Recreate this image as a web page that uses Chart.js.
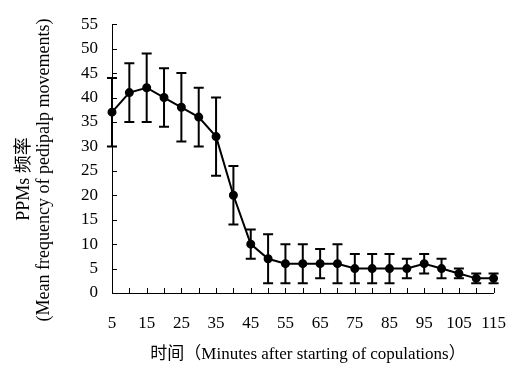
<!DOCTYPE html>
<html>
<head>
<meta charset="utf-8">
<script src="https://cdn.jsdelivr.net/npm/chart.js@4.4.1/dist/chart.umd.min.js"></script>
<style>
  body { margin: 0; background: #fff; }
  #c { display: block; }
</style>
</head>
<body>
<canvas id="c" width="526" height="374"></canvas>
<script>
// Data
const minutes = [5, 10, 15, 20, 25, 30, 35, 40, 45, 50, 55, 60, 65, 70, 75, 80, 85, 90, 95, 100, 105, 110, 115];
const meanPPM = [37, 41, 42, 40, 38, 36, 32, 20, 10, 7, 6, 6, 6, 6, 5, 5, 5, 5, 6, 5, 4, 3, 3];
const errPPM  = [7, 6, 7, 6, 7, 6, 8, 6, 3, 5, 4, 4, 3, 4, 3, 3, 3, 2, 2, 2, 1, 1, 1];
const yTicks = [0, 5, 10, 15, 20, 25, 30, 35, 40, 45, 50, 55];

const FONT = "'Liberation Serif', 'Noto Sans CJK SC', serif";

// Error bars under the line
const errorBars = {
    id: 'errorBars',
    beforeDatasetsDraw(chart) {
        const { ctx, scales: { x, y } } = chart;
        ctx.save();
        ctx.strokeStyle = '#000';
        ctx.lineWidth = 2;
        meanPPM.forEach((v, i) => {
            const px = x.getPixelForValue(i);
            const top = y.getPixelForValue(v + errPPM[i]);
            const bot = y.getPixelForValue(Math.max(0, v - errPPM[i]));
            ctx.beginPath();
            ctx.moveTo(px, top); ctx.lineTo(px, bot);
            ctx.moveTo(px - 5, top); ctx.lineTo(px + 5, top);
            ctx.moveTo(px - 5, bot); ctx.lineTo(px + 5, bot);
            ctx.stroke();
        });
        ctx.restore();
    }
};

// Inward tick marks + axis titles
const axisDecor = {
    id: 'axisDecor',
    afterDraw(chart) {
        const { ctx, chartArea: a, scales: { x, y } } = chart;
        ctx.save();
        ctx.strokeStyle = '#000';
        ctx.lineWidth = 1;
        ctx.beginPath();
        x.ticks.forEach((t, i) => {
            const px = Math.round(x.getPixelForTick(i)) + 0.5;
            ctx.moveTo(px, a.bottom); ctx.lineTo(px, a.bottom - 5);
        });
        y.ticks.forEach((t, i) => {
            const py = Math.round(y.getPixelForTick(i)) + 0.5;
            ctx.moveTo(a.left, py); ctx.lineTo(a.left + 5, py);
        });
        ctx.stroke();

        ctx.fillStyle = '#000';
        ctx.font = '17px ' + FONT;
        ctx.textAlign = 'center';
        ctx.textBaseline = 'middle';
        ctx.fillText('时间（Minutes after starting of copulations）', 308, 355);

        ctx.font = '18px ' + FONT;
        ctx.translate(24, 175);
        ctx.rotate(-Math.PI / 2);
        ctx.fillText('PPMs 频率', -4, 0);
        ctx.fillText('(Mean frequency of pedipalp movements)', 5, 20);
        ctx.restore();
    }
};

new Chart(document.getElementById('c'), {
    type: 'line',
    data: {
        labels: minutes,
        datasets: [{
            data: meanPPM,
            borderColor: '#000',
            backgroundColor: '#000',
            borderWidth: 2,
            pointRadius: 3.5,
            pointBackgroundColor: '#000',
            tension: 0
        }]
    },
    options: {
        responsive: false,
        animation: false,
        layout: { padding: { top: 15, right: 14, left: 0, bottom: 0 } },
        plugins: { legend: { display: false }, tooltip: { enabled: false } },
        scales: {
            x: {
                type: 'category',
                offset: false,
                grid: { display: false, drawTicks: false },
                border: { display: true, color: '#000', width: 1 },
                ticks: {
                    autoSkip: false,
                    maxRotation: 0,
                    padding: 20,
                    color: '#000',
                    font: { family: FONT, size: 17 },
                    callback: (val, i) => (i % 2 === 0 ? minutes[i] : '')
                },
                afterFit: s => { s.height = 81; }
            },
            y: {
                min: 0,
                max: 55,
                afterBuildTicks: s => { s.ticks = yTicks.map(v => ({ value: v })); },
                grid: { display: false, drawTicks: false },
                border: { display: true, color: '#000', width: 1 },
                ticks: {
                    padding: 14,
                    color: '#000',
                    font: { family: FONT, size: 17 }
                },
                afterFit: s => { s.width = 112; }
            }
        }
    },
    plugins: [errorBars, axisDecor]
});
</script>
</body>
</html>
